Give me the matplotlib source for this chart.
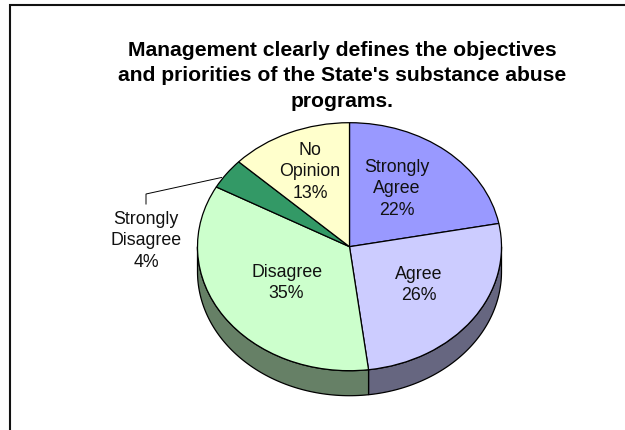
import numpy as np
import matplotlib
matplotlib.use("Agg")
import matplotlib.pyplot as plt
from matplotlib.patches import Polygon, Rectangle

plt.rcParams["font.family"] = ["Liberation Sans", "DejaVu Sans"]

# Survey results, clockwise from twelve o'clock
categories = ["Strongly\nAgree", "Agree", "Disagree", "Strongly\nDisagree", "No\nOpinion"]
shares = [22, 26, 35, 4, 13]
face_colors = ["#9999FF", "#CCCCFF", "#CCFFCC", "#339966", "#FFFFCC"]
wall_colors = ["#666699", "#666680", "#668066", "#336644", "#808066"]
title = "Management clearly defines the objectives\nand priorities of the State's substance abuse\nprograms."

W, H = 625, 431
CX, CY, RX, RY, DEPTH = 349.5, 247.7, 152.0, 124.0, 25.0

fig = plt.figure(figsize=(W / 100, H / 100), dpi=100, facecolor="white")
ax = fig.add_axes([0, 0, 1, 1])

# Outer slide frame, open past the right and bottom edges
fig.add_artist(Rectangle((9.5 / W, -0.1), W, 1.1 - 6 / H, transform=fig.transFigure,
                         fill=False, ec="#111111", lw=1.5))

wedges, _ = ax.pie(shares, colors=face_colors, startangle=90, counterclock=False,
                   wedgeprops=dict(edgecolor="black", linewidth=0.9, zorder=3))

# The unit circle becomes the pie ellipse: one data unit is RX pixels across, RY pixels down
ax.set_aspect("auto")
ax.set_xlim(-CX / RX, (W - CX) / RX)
ax.set_ylim(-(H - CY) / RY, CY / RY)
ax.axis("off")

def px(x, y):
    """Pixel position (origin top-left) to data coordinates."""
    return (x - CX) / RX, (CY - y) / RY

# Extruded side wall: only the part of each slice on the lower half of the ellipse
drop = DEPTH / RY
edges = 90 - 3.6 * np.concatenate([[0], np.cumsum(shares)])
for start, end, wall in zip(edges[:-1], edges[1:], wall_colors):
    lo, hi = max(end, -180), min(start, 0)
    if hi <= lo:
        continue
    t = np.radians(np.linspace(lo, hi, 80))
    top = np.column_stack([np.cos(t), np.sin(t)])
    bottom = (top - [0, drop])[::-1]
    ax.add_patch(Polygon(np.vstack([top, bottom]), closed=True, facecolor=wall,
                         edgecolor="black", linewidth=0.9, zorder=2))

# Slice labels
label_px = [(397, 189), (419, 285), (286.6, 283), (146, 241), (310, 172)]
for name, share, (x, y) in zip(categories, shares, label_px):
    ax.text(*px(x, y), f"{name}\n{share}%", ha="center", va="center", fontsize=12.8,
            color="#111111", linespacing=1.33, zorder=5)

# Leader line for the narrow slice
lx, ly = zip(*[px(146, 205), px(146, 195), px(221.5, 178.5)])
ax.plot(lx, ly, color="black", lw=0.7, zorder=1, solid_joinstyle="miter")

ax.text(*px(342.5, 76), title, ha="center", va="center", fontsize=15.2, fontweight="bold",
        color="black", linespacing=1.41)

fig.savefig("out.png", dpi=100)
